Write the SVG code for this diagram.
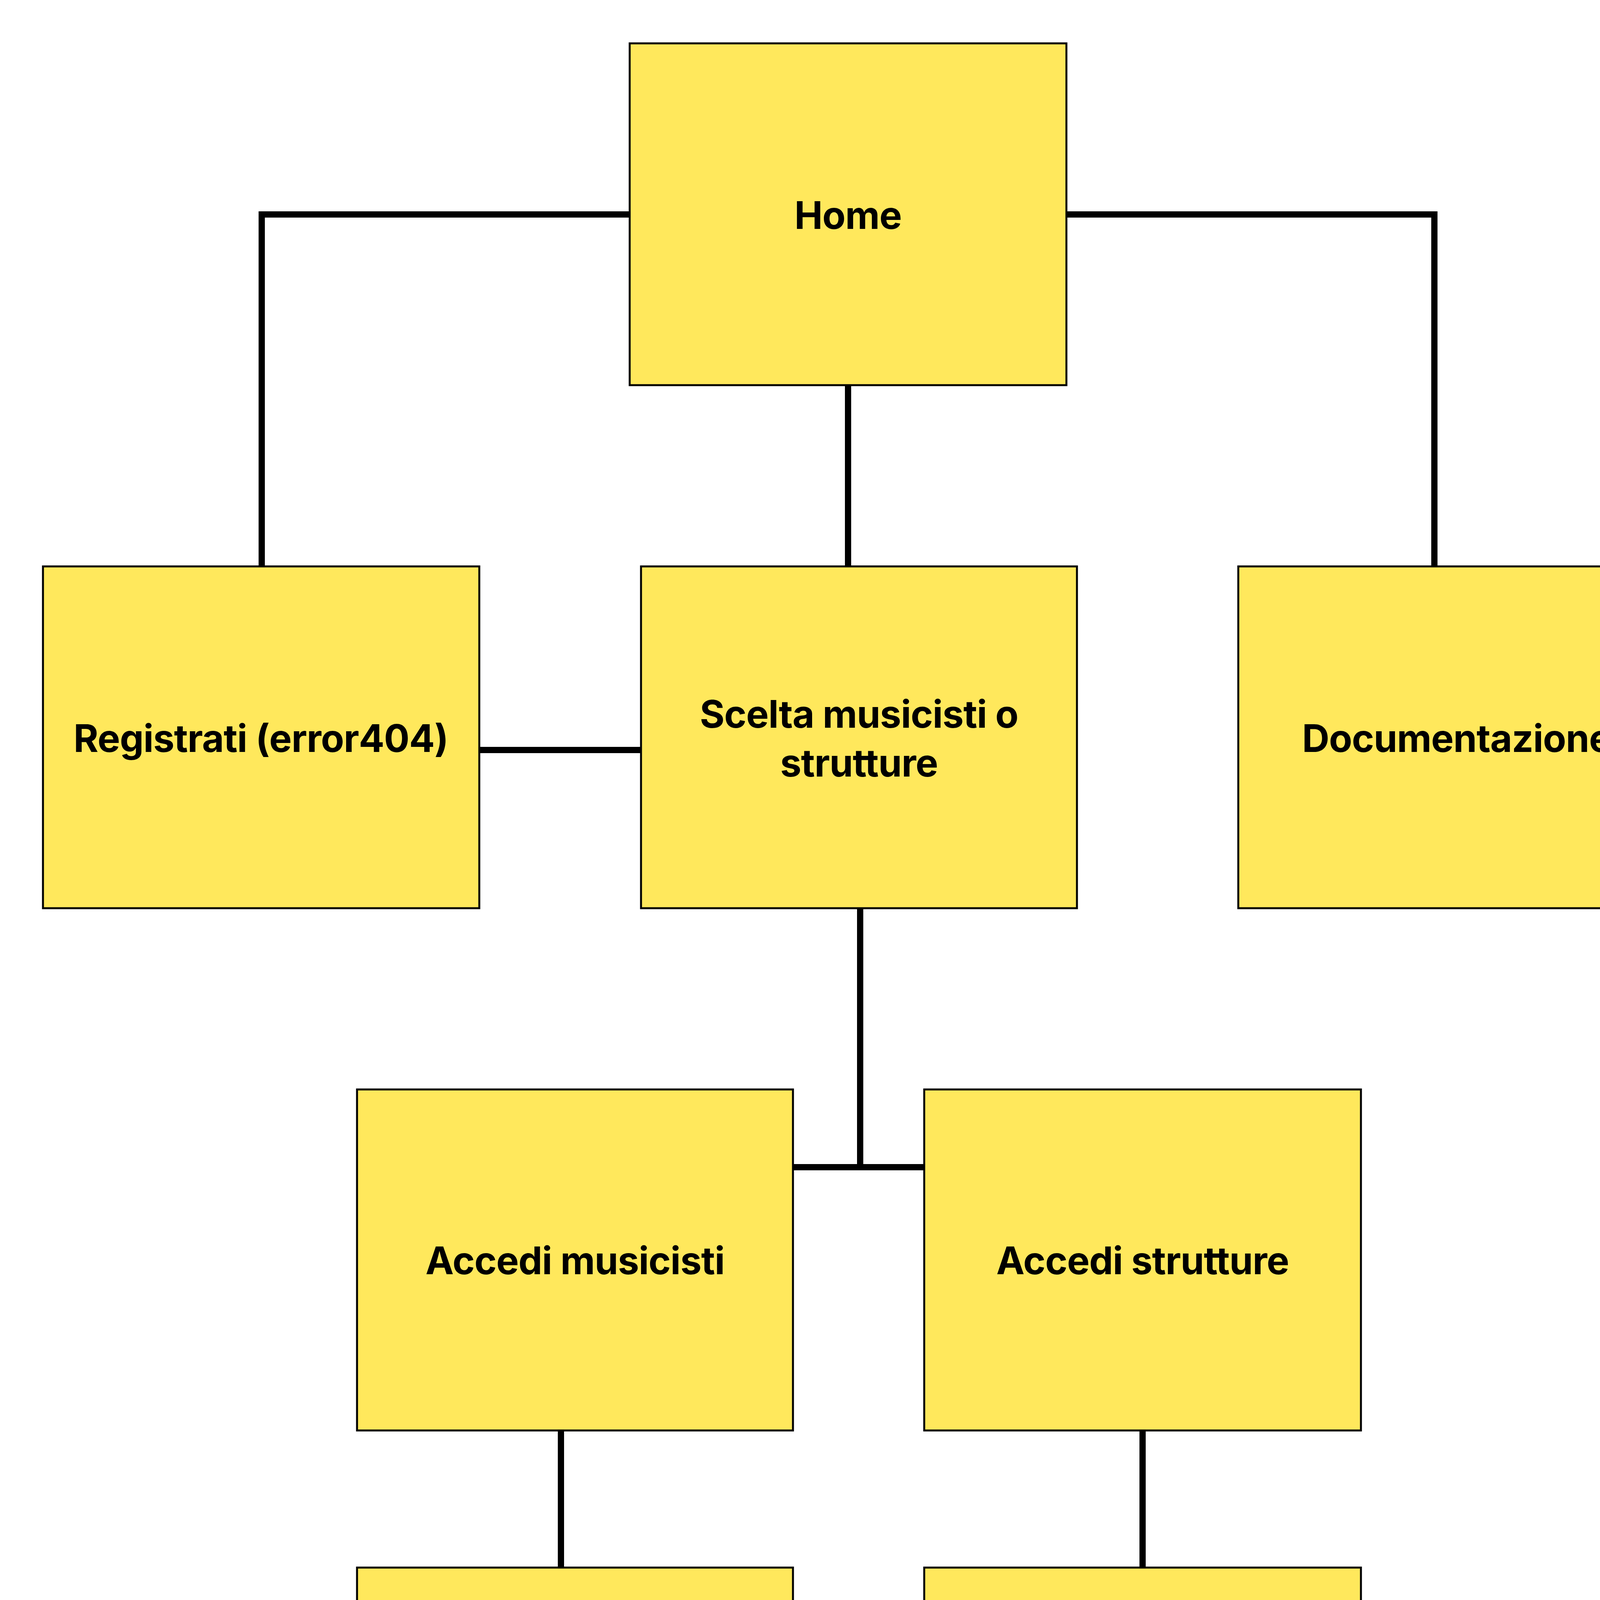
<svg xmlns="http://www.w3.org/2000/svg" width="4398" height="5000" viewBox="0 0 4398 5000">
<style>
.box{fill:#FFE85C;stroke:#000;stroke-width:5}
.lbl{font-family:Inter,"Liberation Sans",sans-serif;font-weight:700;font-size:97px;letter-spacing:-1px;fill:#000;text-anchor:middle}
.conn{fill:none;stroke:#000;stroke-width:16;stroke-linejoin:miter}
</style>
<rect width="4398" height="5000" fill="#fff"/>
<g id="connectors">
<path class="conn" d="M1612 549 H670 V1450"/>
<path class="conn" d="M2730 549 H3672 V1450"/>
<path class="conn" d="M2171 986 V1450"/>
<path class="conn" d="M1227 1920 H1641"/>
<path class="conn" d="M2202 2325 V2988"/>
<path class="conn" d="M2030 2988 H2366"/>
<path class="conn" d="M1436 3662 V4013"/>
<path class="conn" d="M2925 3662 V4013"/>
</g>
<g id="home"><rect class="box" x="1612" y="111" width="1118" height="875"/><text class="lbl" x="2171" y="586">Home</text></g>
<g id="registrati"><rect class="box" x="110" y="1450" width="1117" height="875"/><text class="lbl" x="668" y="1925">Registrati (error404)</text></g>
<g id="scelta"><rect class="box" x="1641" y="1450" width="1116" height="875"/><text class="lbl" x="2199" y="1863">Scelta musicisti o</text><text class="lbl" x="2199" y="1988">strutture</text></g>
<g id="documentazione"><rect class="box" x="3170" y="1450" width="1118" height="875"/><text class="lbl" x="3729" y="1925">Documentazione</text></g>
<g id="accedi-musicisti"><rect class="box" x="914" y="2789" width="1116" height="873"/><text class="lbl" x="1472" y="3262">Accedi musicisti</text></g>
<g id="accedi-strutture"><rect class="box" x="2366" y="2789" width="1118" height="873"/><text class="lbl" x="2925" y="3262">Accedi strutture</text></g>
<g id="profilo-musicisti"><rect class="box" x="914" y="4013" width="1116" height="875"/><text class="lbl" x="1472" y="4487">Profilo musicisti</text></g>
<g id="profilo-strutture"><rect class="box" x="2366" y="4013" width="1118" height="875"/><text class="lbl" x="2925" y="4487">Profilo strutture</text></g>
</svg>
